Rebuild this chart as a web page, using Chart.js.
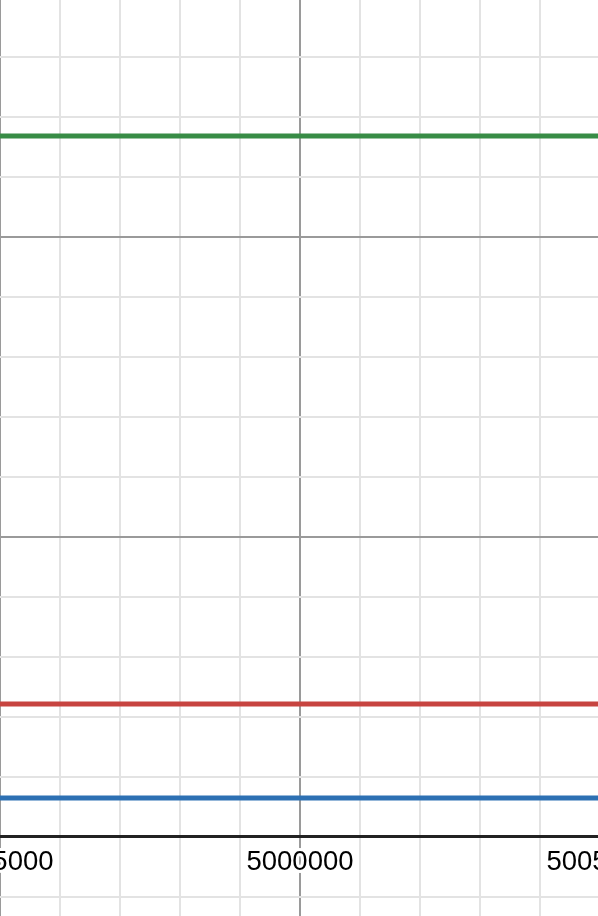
<!DOCTYPE html>
<html>
<head>
<meta charset="utf-8">
<style>
  html, body { margin: 0; padding: 0; background: #fff; overflow: hidden; }
  #wrap { position: relative; width: 598px; height: 916px; }
</style>
<script src="https://cdn.jsdelivr.net/npm/chart.js@4.4.1/dist/chart.umd.min.js"></script>
</head>
<body>
<div id="wrap"><canvas id="graph"></canvas></div>
<script>
// horizontal lines y = constant
const seriesNames = ['green', 'red', 'blue'];
const seriesValues = [11683, 2217, 650];
const seriesColors = ['#388c46', '#c74440', '#2d70b3'];
const lineEnds = [4990000, 5010000];

// labelled x ticks
const xTickLabels = [4995000, 5000000, 5005000];

// view window
const xMin = 4995000, xMax = 5004966.7;
const yMin = -1316.7, yMax = 13950;
const minorStep = 1000, majorStep = 5000;

function gridTicks(scale) {
  const ticks = [];
  for (let v = Math.ceil(scale.min / minorStep) * minorStep; v <= scale.max; v += minorStep) {
    ticks.push({ value: v });
  }
  scale.ticks = ticks;
}

function gridColor(ctx) {
  const v = ctx.tick.value;
  if (v === 0) return '#222222';
  if (v % majorStep === 0) return '#9a9a9a';
  return '#e3e3e3';
}

function gridWidth(ctx) {
  return ctx.tick.value === 0 ? 3 : 2;
}

const axisLabels = {
  id: 'axisLabels',
  afterDatasetsDraw(chart) {
    const c = chart.ctx;
    const xs = chart.scales.x, ys = chart.scales.y;
    const baseY = ys.getPixelForValue(0) + 33;
    c.save();
    c.font = '27.5px "Liberation Sans", Arial, sans-serif';
    c.textAlign = 'center';
    c.textBaseline = 'alphabetic';
    c.lineJoin = 'round';
    xTickLabels.forEach(v => {
      const px = xs.getPixelForValue(v);
      c.strokeStyle = '#ffffff';
      c.lineWidth = 6;
      c.strokeText(String(v), px, baseY);
      c.fillStyle = '#000000';
      c.fillText(String(v), px, baseY);
    });
    c.restore();
  }
};

new Chart(document.getElementById('graph'), {
  type: 'line',
  data: {
    datasets: seriesNames.map((name, i) => ({
      label: name,
      data: lineEnds.map(x => ({ x: x, y: seriesValues[i] })),
      borderColor: seriesColors[i],
      borderWidth: 5,
      pointRadius: 0,
      tension: 0
    }))
  },
  plugins: [axisLabels],
  options: {
    responsive: true,
    maintainAspectRatio: false,
    animation: false,
    layout: { padding: 0 },
    plugins: {
      legend: { display: false },
      tooltip: { enabled: false }
    },
    scales: {
      x: {
        type: 'linear',
        min: xMin,
        max: xMax,
        afterBuildTicks: gridTicks,
        ticks: { display: false },
        border: { display: false },
        grid: { drawTicks: false, color: gridColor, lineWidth: gridWidth }
      },
      y: {
        type: 'linear',
        min: yMin,
        max: yMax,
        afterBuildTicks: gridTicks,
        ticks: { display: false },
        border: { display: false },
        grid: { drawTicks: false, color: gridColor, lineWidth: gridWidth }
      }
    }
  }
});
</script>
</body>
</html>
